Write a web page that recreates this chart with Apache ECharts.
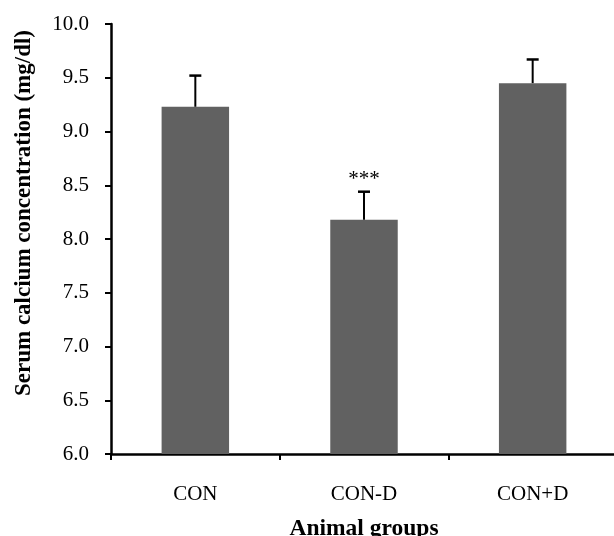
<!DOCTYPE html>
<html>
<head>
<meta charset="utf-8">
<script src="https://cdn.jsdelivr.net/npm/echarts@6/dist/echarts.min.js"></script>
<style>
  html, body { margin: 0; padding: 0; background: #fff; }
  #chart { width: 614px; height: 536px; }
</style>
</head>
<body>
<div id="chart"></div>
<script>
// 数据
const groups = ['CON', 'CON-D', 'CON+D'];
const means = [9.23, 8.18, 9.45];
const errors = [0.29, 0.26, 0.22];
const marks = ['', '***', ''];
const yTicks = [6.0, 6.5, 7.0, 7.5, 8.0, 8.5, 9.0, 9.5, 10.0];

const chart = echarts.init(document.getElementById('chart'));
const serif = '"Liberation Serif", "Times New Roman", serif';

const option = {
  animation: false,
  grid: { left: 111, right: -3, top: 24, bottom: 82, outerBoundsMode: 'none' },
  xAxis: {
    type: 'category',
    data: groups,
    name: 'Animal groups',
    nameLocation: 'middle',
    nameGap: 63,
    nameTextStyle: { fontFamily: serif, fontWeight: 'bold', fontSize: 23.5, color: '#000' },
    axisLine: { lineStyle: { color: '#000', width: 2.5 } },
    axisTick: { show: true, length: 6, lineStyle: { color: '#000', width: 2 } },
    axisLabel: { fontFamily: serif, fontSize: 21, color: '#000', margin: 30 }
  },
  yAxis: {
    type: 'value',
    min: yTicks[0],
    max: yTicks[yTicks.length - 1],
    interval: 0.5,
    name: 'Serum calcium concentration (mg/dl)',
    nameLocation: 'middle',
    nameGap: 75,
    // 标题略偏上
    nameTextStyle: { fontFamily: serif, fontWeight: 'bold', fontSize: 23, color: '#000', padding: [0, 0, 0, 52] },
    axisLine: { show: true, lineStyle: { color: '#000', width: 2.5 } },
    axisTick: { show: true, length: 6, lineStyle: { color: '#000', width: 2 } },
    splitLine: { show: false },
    axisLabel: {
      fontFamily: serif, fontSize: 21, color: '#000', margin: 22,
      formatter: v => v.toFixed(1)
    }
  },
  series: [
    {
      type: 'bar',
      data: means,
      barWidth: '40%',
      itemStyle: { color: '#616161' }
    },
    {
      type: 'custom',
      data: means.map((m, i) => [i, m, errors[i]]),
      z: 3,
      renderItem: (params, api) => {
        const i = api.value(0);
        const base = api.coord([i, api.value(1)]);
        const top = api.coord([i, api.value(1) + api.value(2)]);
        const children = [
          { type: 'line', shape: { x1: base[0], y1: base[1], x2: top[0], y2: top[1] },
            style: { stroke: '#000', lineWidth: 2 } },
          { type: 'line', shape: { x1: top[0] - 6, y1: top[1], x2: top[0] + 6, y2: top[1] },
            style: { stroke: '#000', lineWidth: 2.5 } }
        ];
        if (marks[i]) {
          children.push({
            type: 'text',
            style: {
              text: marks[i], x: top[0], y: top[1] - 12.5,
              align: 'center', verticalAlign: 'middle',
              font: '21px ' + serif, fill: '#000'
            }
          });
        }
        return { type: 'group', children };
      }
    }
  ]
};

chart.setOption(option);
</script>
</body>
</html>
